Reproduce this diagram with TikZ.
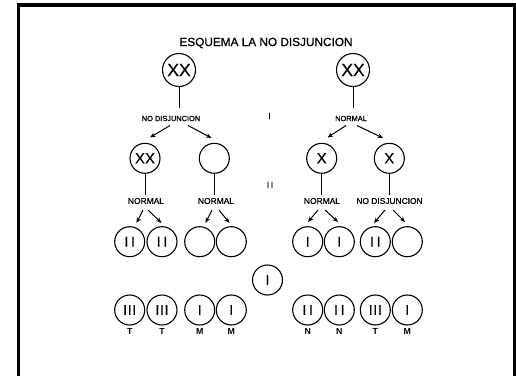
\documentclass[tikz,border=0pt]{standalone}
\usepackage{fontspec}
\setmainfont{Liberation Sans}
\newfontfamily\lettering[FakeBold=0.8]{Liberation Sans}
\newfontfamily\cellfont[FakeBold=0.3]{Liberation Sans}
\usetikzlibrary{arrows.meta}
\newcommand{\twobars}{I\kern2.8pt I}
\newcommand{\threebars}{I\kern0.7pt I\kern0.7pt I}
\tikzset{
  cell/.style={circle, draw, line width=1.1pt, minimum size=30pt, inner sep=0pt,
    font=\cellfont\fontsize{15}{15}\selectfont},
  bigcell/.style={cell, minimum size=33pt, font=\cellfont\fontsize{17.5}{17.5}\selectfont},
  barcell/.style={cell, font=\cellfont\fontsize{14}{14}\selectfont},
  link/.style={line width=0.9pt},
  arr/.style={-{Stealth[length=5.5pt,width=4.5pt]}, line width=1pt},
  toplabel/.style={inner sep=0pt, font=\lettering\fontsize{7.4}{8}\selectfont},
  midlabel/.style={inner sep=0pt, font=\lettering\fontsize{8.4}{9}\selectfont},
  stage/.style={inner sep=0pt, font=\lettering\fontsize{9}{9}\selectfont},
  tag/.style={inner sep=0pt, font=\fontsize{8.8}{9}\selectfont\bfseries},
  heading/.style={inner sep=0pt, font=\lettering\fontsize{11.8}{12}\selectfont},
}
\begin{document}
\begin{tikzpicture}[x=1pt,y=-1pt]
\useasboundingbox (0,0) rectangle (516,375);
% open frame around the sheet
\draw[line width=3.4pt] (18.4,385) -- (18.4,5) -- (514.6,5) -- (514.6,385);

\node[heading] (title) at (266,43) {ESQUEMA LA NO DISJUNCION};

% first division
\node[bigcell] (A1) at (179,70) {XX};
\node[bigcell] (A2) at (353,70) {XX};
\coordinate (A1t) at (179,108);
\coordinate (A2t) at (353,108);
\draw[link] (A1) -- (A1t);
\draw[link] (A2) -- (A2t);
\node[toplabel] (L1) at (171,118.5) {NO DISJUNCION};
\node[toplabel] (L2) at (351,118.5) {NORMAL};
\node[stage] (S1) at (269.5,116) {I};

% second level
\node[cell] (B1) at (145,158.3) {XX};
\node[cell] (B2) at (214.3,158.3) {};
\node[cell] (B3) at (321.7,158.3) {X};
\node[cell] (B4) at (389.3,158.3) {X};
\coordinate (a1) at (170,125.5);
\coordinate (a2) at (188,125.5);
\coordinate (a3) at (346,125.5);
\coordinate (a4) at (357,125.5);
\coordinate (a1e) at (150,137.5);
\coordinate (a2e) at (211.5,138);
\coordinate (a3e) at (327.5,137.5);
\coordinate (a4e) at (383,138);
\draw[arr] (a1) -- (a1e);
\draw[arr] (a2) -- (a2e);
\draw[arr] (a3) -- (a3e);
\draw[arr] (a4) -- (a4e);

% second division
\coordinate (B1t) at (145,195);
\coordinate (B2t) at (214.3,195);
\coordinate (B3t) at (321.7,195);
\coordinate (B4t) at (389.3,195);
\draw[link] (B1) -- (B1t);
\draw[link] (B2) -- (B2t);
\draw[link] (B3) -- (B3t);
\draw[link] (B4) -- (B4t);
\node[midlabel] (M1) at (146,201) {NORMAL};
\node[midlabel] (M2) at (216,201) {NORMAL};
\node[midlabel] (M3) at (322,201) {NORMAL};
\node[midlabel] (M4) at (389.5,201) {NO DISJUNCION};
\node[stage] (S2) at (270,185) {I\kern1.5pt I};

% gametes
\node[barcell] (C1) at (129.7,241.7) {\twobars};
\node[barcell] (C2) at (162,241.7) {\twobars};
\node[cell] (C3) at (199.7,241.7) {};
\node[cell] (C4) at (231.3,241.7) {};
\node[barcell] (C5) at (307.7,241.7) {I};
\node[barcell] (C6) at (339.3,241.7) {I};
\node[barcell] (C7) at (375.3,241.7) {\twobars};
\node[cell] (C8) at (407.3,241.7) {};

\coordinate (b1) at (143,210);
\coordinate (b2) at (148,210);
\coordinate (b3) at (212,210);
\coordinate (b4) at (219,210);
\coordinate (b5) at (318,210);
\coordinate (b6) at (325,210);
\coordinate (b7) at (385,210);
\coordinate (b8) at (393,210);
\coordinate (b1e) at (136.5,223);
\coordinate (b2e) at (161.5,223);
\coordinate (b3e) at (205.5,223);
\coordinate (b4e) at (229.5,223);
\coordinate (b5e) at (308,222);
\coordinate (b6e) at (338,222);
\coordinate (b7e) at (374,223);
\coordinate (b8e) at (405,222);
\draw[arr] (b1) -- (b1e);
\draw[arr] (b2) -- (b2e);
\draw[arr] (b3) -- (b3e);
\draw[arr] (b4) -- (b4e);
\draw[arr] (b5) -- (b5e);
\draw[arr] (b6) -- (b6e);
\draw[arr] (b7) -- (b7e);
\draw[arr] (b8) -- (b8e);

% normal gamete
\node[barcell] (G) at (267.5,280) {I};

% zygotes
\node[barcell] (D1) at (129.7,310) {\threebars};
\node[barcell] (D2) at (162,310) {\threebars};
\node[barcell] (D3) at (199.7,310) {I};
\node[barcell] (D4) at (231.3,310) {I};
\node[barcell] (D5) at (307.7,310) {\twobars};
\node[barcell] (D6) at (339.3,310) {\twobars};
\node[barcell] (D7) at (375.3,310) {\threebars};
\node[barcell] (D8) at (407.3,310) {I};

\node[tag] (T1) at (129.7,331.5) {T};
\node[tag] (T2) at (162,331.5) {T};
\node[tag] (T3) at (199.7,331.5) {M};
\node[tag] (T4) at (231.3,331.5) {M};
\node[tag] (T5) at (307.7,331.5) {N};
\node[tag] (T6) at (339.3,331.5) {N};
\node[tag] (T7) at (375.3,331.5) {T};
\node[tag] (T8) at (407.3,331.5) {M};
\end{tikzpicture}
\end{document}
